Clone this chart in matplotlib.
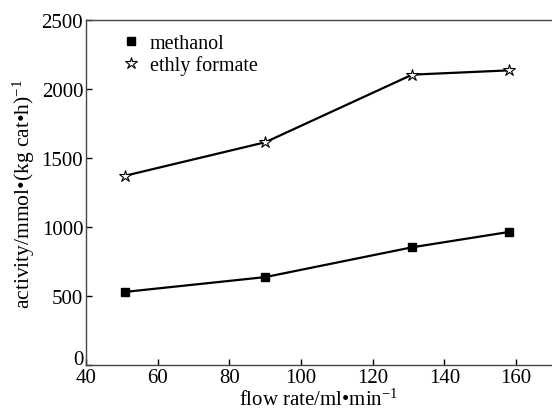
import matplotlib
matplotlib.use("Agg")
import matplotlib.pyplot as plt
from matplotlib.transforms import ScaledTranslation

plt.rcParams['font.family'] = ['Liberation Serif', 'DejaVu Serif']
plt.rcParams['mathtext.fontset'] = 'custom'
plt.rcParams['mathtext.rm'] = 'Liberation Serif'
plt.rcParams['mathtext.it'] = 'Liberation Serif:italic'

flow_methanol = [51, 90, 131, 158]
methanol = [530, 637, 853, 964]
flow_formate = [51, 90, 131, 158]
formate = [1372, 1614, 2104, 2135]

fig = plt.figure(figsize=(5.52, 4.14), dpi=100)
ax = fig.add_axes([86 / 552, 1 - 366 / 414, 1 - 86 / 552, 345 / 414])

ax.plot(flow_methanol, methanol, color="black", linewidth=1.6, marker="s",
        markersize=6, label="methanol")
ax.plot(flow_formate, formate, color="black", linewidth=1.6, marker="*",
        markersize=9, markerfacecolor="white", markeredgewidth=0.8,
        label="ethly formate")

ax.set_xlim(40, 170)
ax.set_ylim(0, 2500)
ax.set_xticks([40, 60, 80, 100, 120, 140, 160])
ax.set_yticks([0, 500, 1000, 1500, 2000, 2500])
ax.tick_params(direction="in", length=4, width=1, labelsize=15, pad=2,
               top=False, right=False)
ax.spines["right"].set_visible(False)
for s in ["left", "bottom", "top"]:
    ax.spines[s].set_linewidth(1.0)
    ax.spines[s].set_color("#444444")

# the "0" label sits a little above the axis corner in the original
lbl0 = ax.get_yticklabels()[0]
lbl0.set_transform(lbl0.get_transform() + ScaledTranslation(0, 6 / 72, fig.dpi_scale_trans))

ax.set_xlabel("flow rate/ml•min$^{-1}$", fontsize=15, labelpad=1)
ax.set_ylabel("activity/mmol•(kg cat•h)$^{-1}$", fontsize=15.5)
ax.yaxis.set_label_coords(-0.105, 0.5)

handles, labels = ax.get_legend_handles_labels()
leg = ax.legend(handles, labels, loc="upper left", frameon=False, fontsize=14.5,
                handlelength=0.8, handletextpad=0.5, labelspacing=0.1,
                borderaxespad=0.3, bbox_to_anchor=(0.05, 1.0), numpoints=1)
for h in leg.legend_handles:
    h.set_linestyle("none")

fig.savefig("out.png", dpi=100)
